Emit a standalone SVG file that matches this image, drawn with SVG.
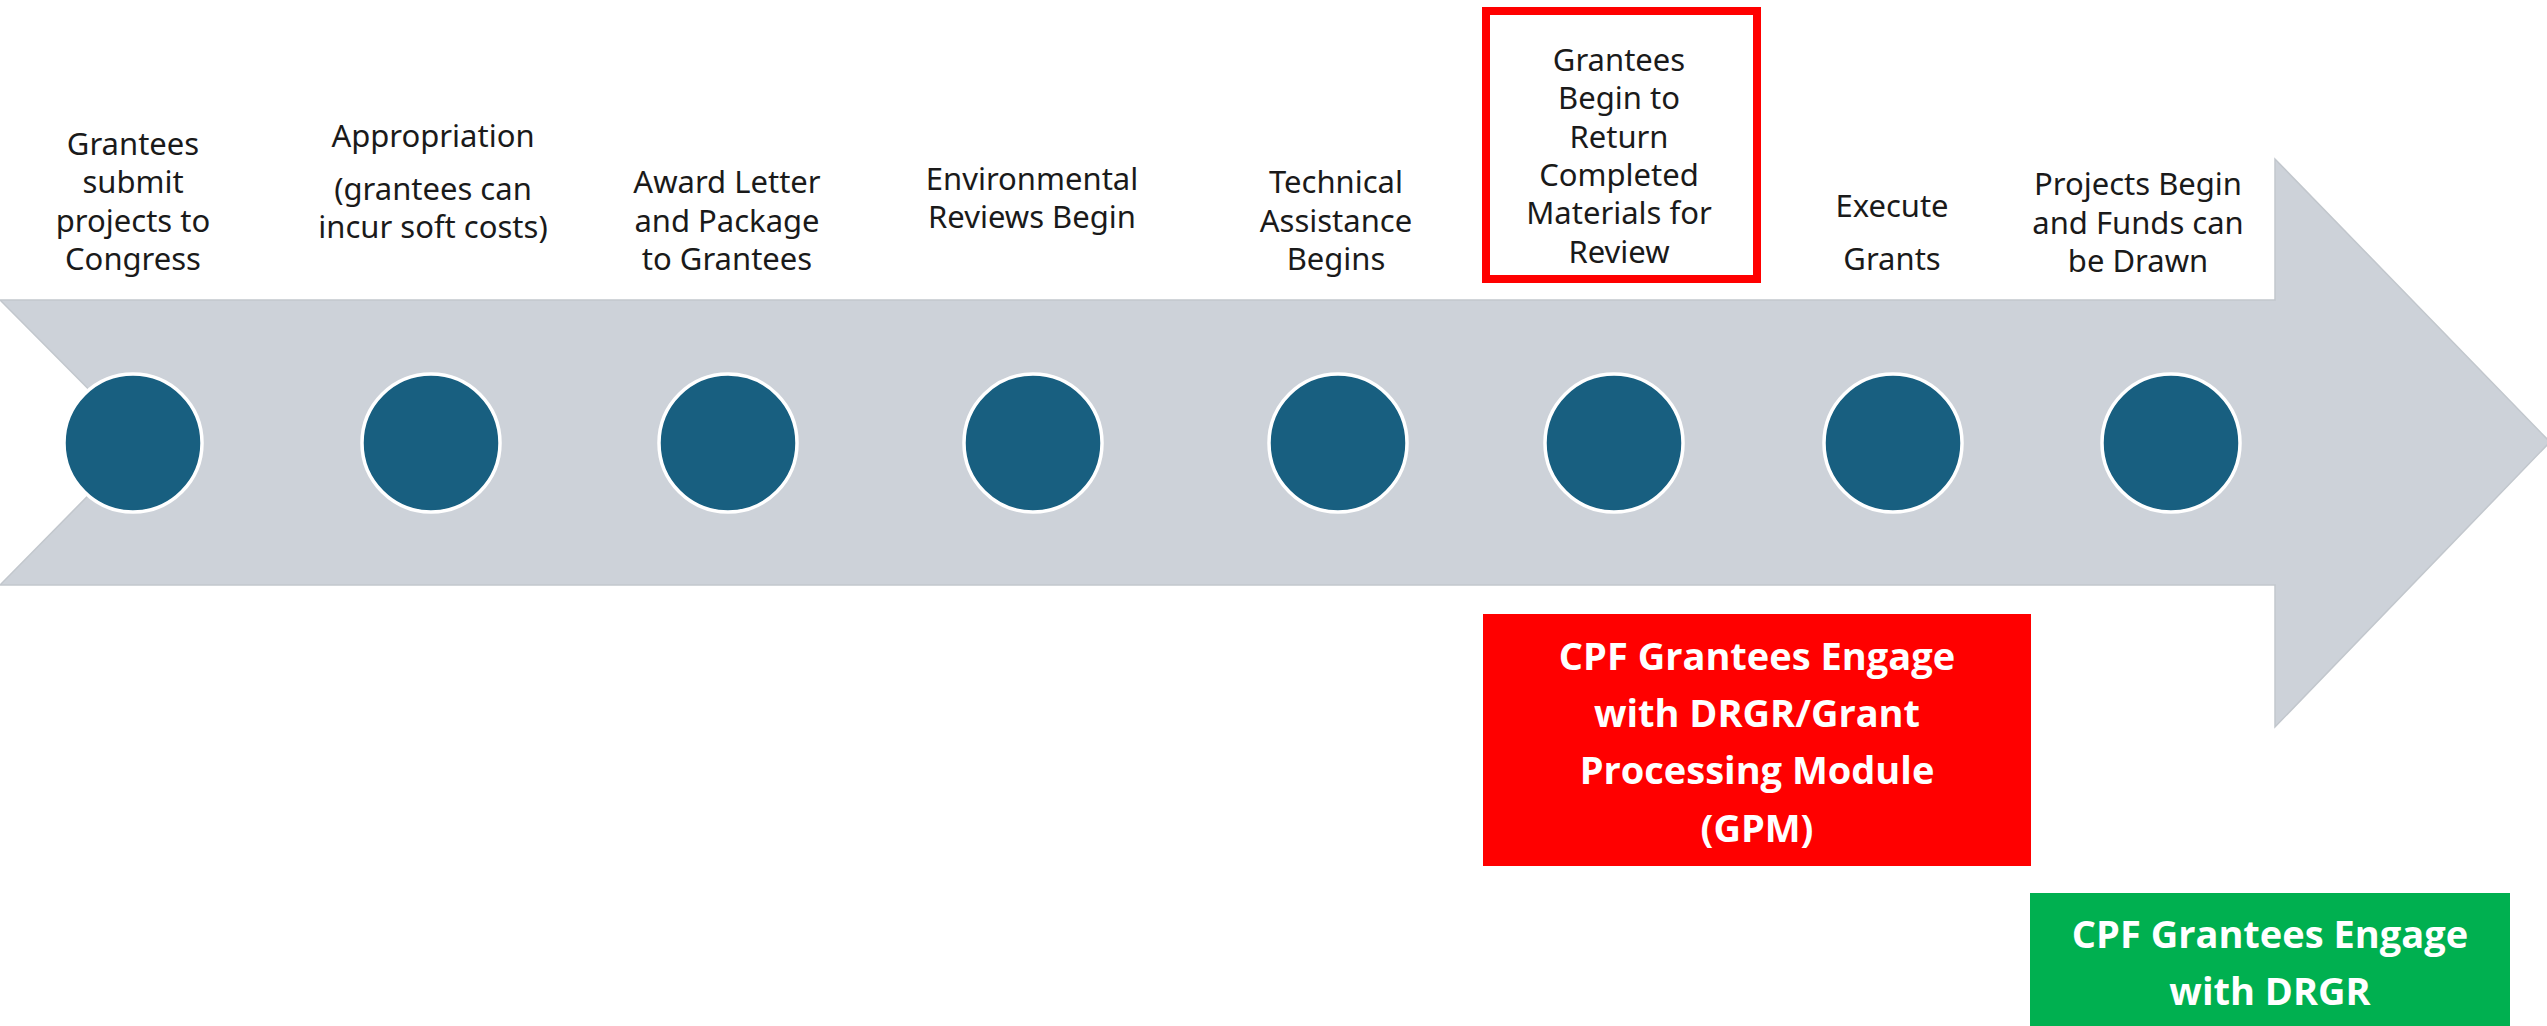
<svg xmlns="http://www.w3.org/2000/svg" width="2547" height="1026" viewBox="0 0 2547 1026">
<style>
.lbl{font-family:"Noto Sans","Liberation Sans",sans-serif;font-size:31px;fill:#1a1a1a;text-anchor:middle}
.dot{fill:#185f80;stroke:#ffffff;stroke-width:3.5}
.box{font-family:"Open Sans","Noto Sans","Liberation Sans",sans-serif;font-size:38px;font-weight:bold;fill:#ffffff;text-anchor:middle}
</style>
<rect x="0" y="0" width="2547" height="1026" fill="#ffffff"/>
<g id="timeline-arrow">
<polygon points="0,300 2275,300 2275,159 2550,442 2275,727 2275,585 0,585 141,442" fill="#cdd2d9" stroke="#c2c7cd" stroke-width="1.5"/>
</g>
<g id="step1">
<circle class="dot" cx="133" cy="443" r="69"/>
<text class="lbl"><tspan x="133" y="155">Grantees</tspan><tspan x="133" y="193">submit</tspan><tspan x="133" y="231.5">projects to</tspan><tspan x="133" y="270">Congress</tspan></text>
</g>
<g id="step2">
<circle class="dot" cx="431" cy="443" r="69"/>
<text class="lbl"><tspan x="433" y="147">Appropriation</tspan><tspan x="433" y="200">(grantees can</tspan><tspan x="433" y="238">incur soft costs)</tspan></text>
</g>
<g id="step3">
<circle class="dot" cx="728" cy="443" r="69"/>
<text class="lbl"><tspan x="727" y="193">Award Letter</tspan><tspan x="727" y="231.5">and Package</tspan><tspan x="727" y="270">to Grantees</tspan></text>
</g>
<g id="step4">
<circle class="dot" cx="1033" cy="443" r="69"/>
<text class="lbl"><tspan x="1032" y="189.5">Environmental</tspan><tspan x="1032" y="228">Reviews Begin</tspan></text>
</g>
<g id="step5">
<circle class="dot" cx="1338" cy="443" r="69"/>
<text class="lbl"><tspan x="1336" y="193">Technical</tspan><tspan x="1336" y="231.5">Assistance</tspan><tspan x="1336" y="270">Begins</tspan></text>
</g>
<g id="step6">
<rect x="1486" y="11" width="271" height="268" fill="none" stroke="#ff0000" stroke-width="8"/>
<circle class="dot" cx="1614" cy="443" r="69"/>
<text class="lbl"><tspan x="1619" y="71">Grantees</tspan><tspan x="1619" y="109">Begin to</tspan><tspan x="1619" y="148">Return</tspan><tspan x="1619" y="186">Completed</tspan><tspan x="1619" y="224">Materials for</tspan><tspan x="1619" y="263">Review</tspan></text>
</g>
<g id="step7">
<circle class="dot" cx="1893" cy="443" r="69"/>
<text class="lbl"><tspan x="1892" y="217">Execute</tspan><tspan x="1892" y="270">Grants</tspan></text>
</g>
<g id="step8">
<circle class="dot" cx="2171" cy="443" r="69"/>
<text class="lbl"><tspan x="2138" y="195">Projects Begin</tspan><tspan x="2138" y="234">and Funds can</tspan><tspan x="2138" y="272">be Drawn</tspan></text>
</g>
<g id="gpm-box">
<rect x="1483" y="614" width="548" height="252" fill="#ff0000"/>
<text class="box"><tspan x="1757" y="670">CPF Grantees Engage</tspan><tspan x="1757" y="727">with DRGR/Grant</tspan><tspan x="1757" y="784">Processing Module</tspan><tspan x="1757" y="842">(GPM)</tspan></text>
</g>
<g id="drgr-box">
<rect x="2030" y="893" width="480" height="140" fill="#00b050"/>
<text class="box"><tspan x="2270" y="948">CPF Grantees Engage</tspan><tspan x="2270" y="1005">with DRGR</tspan></text>
</g>
<g id="connectors"></g>
</svg>
